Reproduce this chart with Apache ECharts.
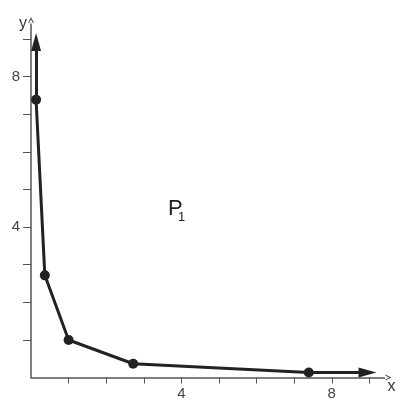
<!DOCTYPE html>
<html>
<head>
<meta charset="utf-8">
<script src="https://cdn.jsdelivr.net/npm/echarts@6/dist/echarts.min.js"></script>
<style>
  html, body { margin: 0; padding: 0; background: #fff; }
  #chart { width: 408px; height: 415px; }
</style>
</head>
<body>
<div id="chart"></div>
<script>
// curve points P1
var pointsX = [0.135, 0.368, 1, 2.718, 7.389];
var pointsY = [7.389, 2.718, 1, 0.368, 0.135];
// centres of the two arrow heads
var arrowUp = [0.135, 8.92];
var arrowRight = [8.95, 0.135];
var tickValues = [1, 2, 3, 4, 5, 6, 7, 8, 9];
var labelValues = [4, 8];

var font = 'Liberation Sans';
var chevron = 'path://M0,10 L5,0 L10,10 L8,10 L5,4 L2,10 Z';

var chart = echarts.init(document.getElementById('chart'));

var data = [];
for (var i = 0; i < pointsX.length; i++) {
    data.push([pointsX[i], pointsY[i]]);
}

function axis(name, isX) {
    return {
        type: 'value',
        min: 0,
        max: 9.4,
        interval: 1,
        name: name,
        nameLocation: 'end',
        nameGap: isX ? 3 : 0,
        nameTextStyle: isX
            ? { fontFamily: font, fontSize: 16, color: '#333', align: 'left', verticalAlign: 'top', padding: [1, 0, 0, 0] }
            : { fontFamily: font, fontSize: 16, color: '#333', align: 'right', verticalAlign: 'middle', padding: [0, 4, 4, 0] },
        splitLine: { show: false },
        axisLine: {
            show: true,
            onZero: false,
            symbol: ['none', chevron],
            symbolSize: [9, 6],
            symbolOffset: [0, 4],
            lineStyle: { color: '#555', width: 1.5 }
        },
        axisTick: {
            show: true,
            length: isX ? 6 : 8,
            customValues: tickValues,
            lineStyle: { color: '#555', width: 1 }
        },
        axisLabel: {
            show: true,
            customValues: labelValues,
            fontFamily: font,
            fontSize: 15,
            color: '#444',
            margin: isX ? 9 : 11
        }
    };
}

var option = {
    animation: false,
    grid: { left: 31, top: 24, width: 353.4, height: 353.6 },
    xAxis: axis('x', true),
    yAxis: axis('y', false),
    series: [
        {
            type: 'line',
            data: data,
            symbol: 'circle',
            symbolSize: 10,
            itemStyle: { color: '#222' },
            lineStyle: { color: '#222', width: 3 },
            emphasis: { disabled: true },
            markLine: {
                silent: true,
                symbol: ['none', 'triangle'],
                symbolSize: [10, 18],
                label: { show: false },
                lineStyle: { color: '#222', width: 3, type: 'solid' },
                data: [
                    [{ coord: data[0] }, { coord: arrowUp }],
                    [{ coord: data[data.length - 1] }, { coord: arrowRight }]
                ]
            }
        }
    ],
    graphic: [
        { type: 'text', left: 168, top: 198, style: { text: 'P', fontFamily: font, fontSize: 22, fill: '#222' } },
        { type: 'text', left: 178, top: 211, style: { text: '1', fontFamily: font, fontSize: 13, fill: '#222' } }
    ]
};

chart.setOption(option);
</script>
</body>
</html>
